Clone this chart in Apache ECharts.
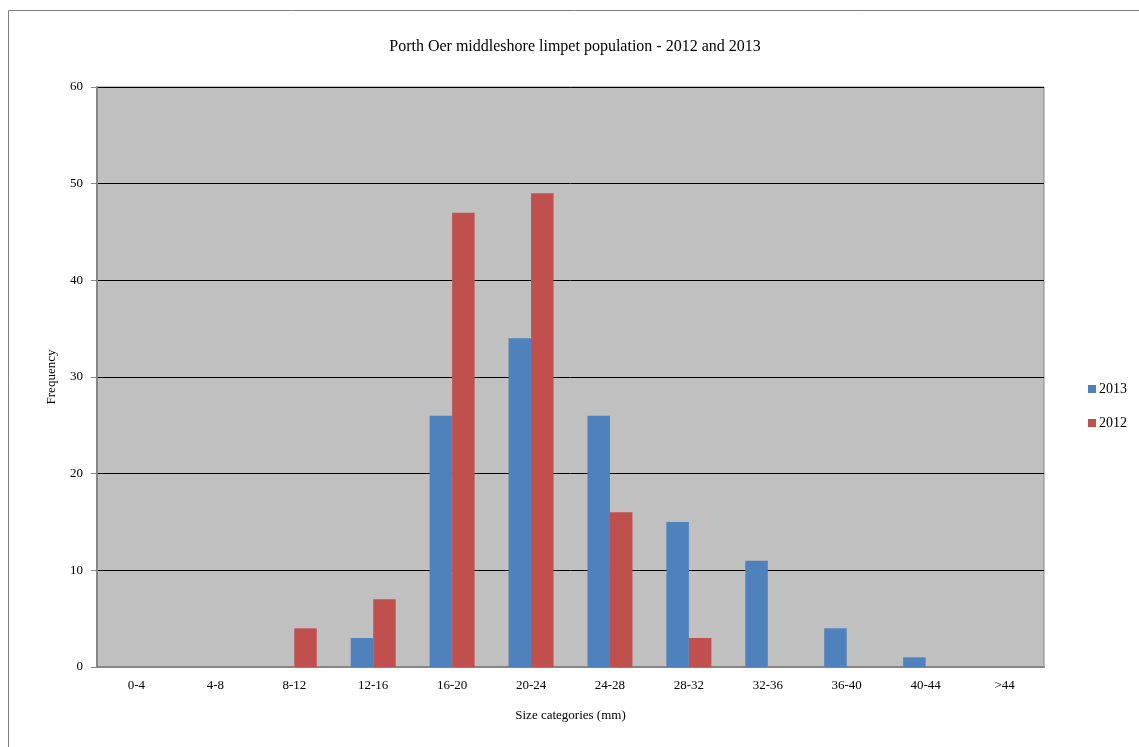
<!DOCTYPE html>
<html><head><meta charset="utf-8">
<script src="https://cdn.jsdelivr.net/npm/echarts@6/dist/echarts.min.js"></script>
<style>html,body{margin:0;padding:0;background:#fff}#c{width:1139px;height:747px}</style>
</head><body><div id="c"></div>
<script>
const categories = ['0-4','4-8','8-12','12-16','16-20','20-24','24-28','28-32','32-36','36-40','40-44','>44'];
const values2013 = [0,0,0,3,26,34,26,15,11,4,1,0];
const values2012 = [0,0,4,7,47,49,16,3,0,0,0,0];
const yTicks = [0,10,20,30,40,50,60];
const font = 'Liberation Serif';
const chart = echarts.init(document.getElementById('c'));
chart.setOption({
  animation:false,
  backgroundColor:'#fff',
  textStyle:{fontFamily:font},
  graphic:[{type:'rect',shape:{x:8.5,y:10.5,width:1140,height:760},style:{fill:'none',stroke:'#7f7f7f',lineWidth:1},silent:true}],
  title:{text:'Porth Oer middleshore limpet population - 2012 and 2013',left:570,top:34,textAlign:'center',
    textStyle:{fontFamily:font,fontSize:16,fontWeight:'normal',color:'#000'}},
  legend:{orient:'vertical',left:1083,top:377,itemWidth:8,itemHeight:8,itemGap:20,icon:'rect',
    textStyle:{fontFamily:font,fontSize:14,color:'#000',padding:[0,0,0,-2]},
    data:['2013','2012']},
  grid:{left:97,right:95,top:87,bottom:80,show:true,backgroundColor:'#C0C0C0',borderColor:'#868686',borderWidth:1},
  xAxis:{type:'category',data:categories,
    axisLine:{lineStyle:{color:'#868686',width:2}},axisTick:{show:false},
    axisLabel:{fontFamily:font,fontSize:13,color:'#000',margin:12},
    name:'Size categories (mm)',nameLocation:'middle',nameGap:42,
    nameTextStyle:{fontFamily:font,fontSize:13,color:'#000'}},
  yAxis:{type:'value',min:0,max:60,interval:10,
    axisLine:{show:true,lineStyle:{color:'#868686',width:2}},
    axisTick:{show:true,length:6,lineStyle:{color:'#868686'}},
    axisLabel:{fontFamily:font,fontSize:13,color:'#000',margin:14,
      formatter:v=>yTicks.includes(v)?String(v):''},
    splitLine:{lineStyle:{color:'#000',width:1}},
    name:'Frequency',nameLocation:'middle',nameGap:39,
    nameTextStyle:{fontFamily:font,fontSize:13,color:'#000'}},
  series:[
    {name:'2013',type:'bar',data:values2013,itemStyle:{color:'#4F81BD'},barGap:'0%',barCategoryGap:'43%'},
    {name:'2012',type:'bar',data:values2012,itemStyle:{color:'#C0504D'},barGap:'0%',barCategoryGap:'43%'}
  ]
});
</script></body></html>
